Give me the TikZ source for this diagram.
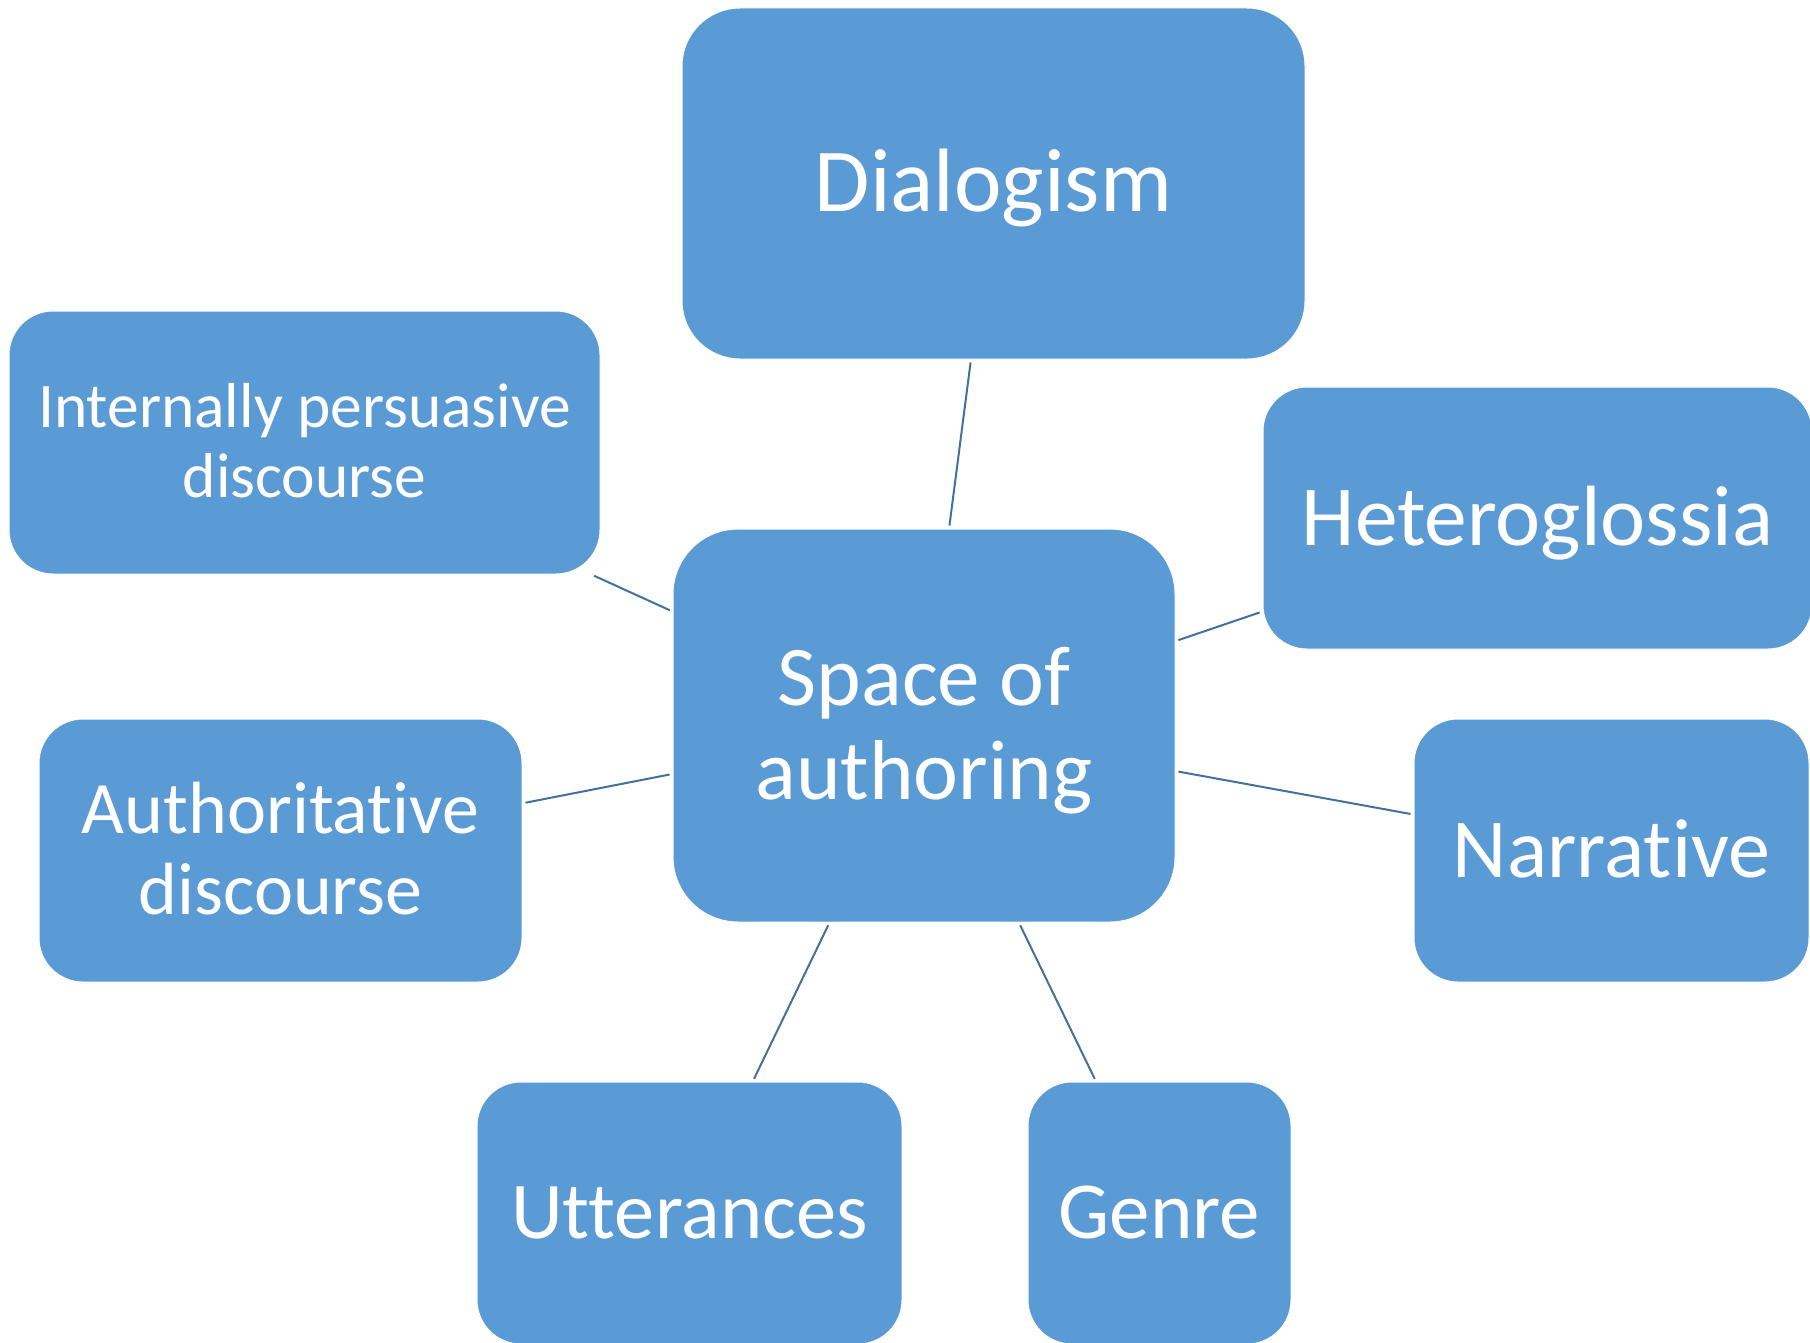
\documentclass[tikz,border=0pt]{standalone}
\usepackage{fontspec}
\setmainfont[Ligatures={NoCommon,NoContextual}]{Carlito}
\definecolor{boxblue}{HTML}{5B9BD5}
\definecolor{linkblue}{HTML}{41719C}
\tikzset{
  idea/.style={draw=white, line width=1pt, fill=boxblue, text=white,
    rounded corners=44pt, inner sep=0pt, align=center, text depth=0pt},
  link/.style={draw=linkblue, line width=2pt, shorten <=3pt, shorten >=3pt},
}
\newcommand{\fsz}[2]{\fontsize{#1}{#2}\selectfont}

\begin{document}
\begin{tikzpicture}[x=1pt,y=1pt]
  \useasboundingbox (0,0) rectangle (1810,-1343);
  \clip (0,0) rectangle (1810,-1343);

  \node[idea, rounded corners=58pt, minimum width=623pt, minimum height=351pt,
    font=\fsz{90}{99}, text height=57pt] (dial) at (993.5,-183.5) {Dialogism};
  \node[idea, minimum width=591pt, minimum height=263pt,
    font=\fsz{63.5}{70}, text height=110pt] (ipd) at (304.5,-442.5) {Internally persuasive\\discourse};
  \node[idea, minimum width=549pt, minimum height=262pt,
    font=\fsz{85.5}{95}, text height=55pt] (hetero) at (1537.5,-518) {Heteroglossia};
  \node[idea, rounded corners=65pt, minimum width=502pt, minimum height=393pt,
    font=\fsz{85}{94}, text height=148pt] (space) at (924,-725.5) {Space of\\authoring};
  \node[idea, minimum width=483pt, minimum height=263pt,
    font=\fsz{74}{81}, text height=128pt] (auth) at (280.5,-850.5) {Authoritative\\discourse};
  \node[idea, minimum width=395pt, minimum height=263pt,
    font=\fsz{84}{92}, text height=53pt] (narr) at (1611.5,-850.5) {Narrative};
  \node[idea, minimum width=425pt, minimum height=262pt,
    font=\fsz{80.5}{89}, text height=51pt] (utter) at (689.5,-1213) {Utterances};
  \node[idea, minimum width=263pt, minimum height=262pt,
    font=\fsz{81}{89}, text height=51pt] (genre) at (1159.5,-1213) {Genre};

  % spokes
  \draw[link] (dial) -- (space);
  \draw[link] (ipd) -- (space);
  \draw[link] (hetero) -- (space);
  \draw[link] (auth) -- (space);
  \draw[link] (narr) -- (space);
  \draw[link] (utter) -- (space);
  \draw[link] (genre) -- (space);
\end{tikzpicture}
\end{document}
